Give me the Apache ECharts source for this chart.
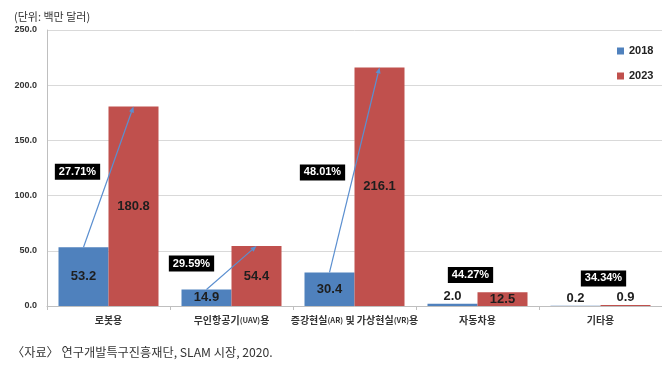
<!DOCTYPE html>
<html>
<head>
<meta charset="utf-8">
<script src="https://cdn.jsdelivr.net/npm/echarts@6/dist/echarts.min.js"></script>
<style>
  html, body { margin: 0; padding: 0; background: #fff; }
  #chart { width: 662px; height: 367px; }
</style>
</head>
<body>
<div id="chart"></div>
<script>
// data
var categories = ['로봇용', '무인항공기(UAV)용', '증강현실(AR) 및 가상현실(VR)용', '자동차용', '기타용'];
var v2018 = [53.2, 14.9, 30.4, 2.0, 0.2];
var v2023 = [180.8, 54.4, 216.1, 12.5, 0.9];
var growth = ['27.71%', '29.59%', '48.01%', '44.27%', '34.34%'];
var yTicks = [0, 50, 100, 150, 200, 250];

// layout only: where the growth boxes sit (value on y axis, px shift from category centre)
var boxY = [121.5, 38.5, 121, 28, 25];
var boxDX = [-31, -40, -32, -7, 3];
var arrowCats = [0, 1, 2];

var BAR_W = 50;
var BLUE = '#4f81bd', RED = '#c0504d';
var KR = '"Noto Sans CJK KR", "Liberation Sans", sans-serif';
var NUM = '"Liberation Sans", Arial, sans-serif';

var chart = echarts.init(document.getElementById('chart'));

function valLabel(v) {
  return {
    value: v,
    label: v < 5 ? { position: 'top', distance: 1 } : { position: 'inside' }
  };
}

var arrowData = arrowCats.map(function (i) { return [i, v2018[i], v2023[i]]; });
var boxData = growth.map(function (g, i) {
  return { value: [i, boxY[i]], label: { offset: [boxDX[i], 0] } };
});

chart.setOption({
  animation: false,
  title: {
    text: '(단위: 백만 달러)',
    left: 9, top: 6,
    textStyle: { fontFamily: KR, fontSize: 11, fontWeight: 'normal', color: '#333' }
  },
  graphic: [{
    type: 'text', left: 12, top: 346,
    style: { text: '〈자료〉 연구개발특구진흥재단, SLAM 시장, 2020.', font: '12.2px ' + KR, fill: '#333' }
  }],
  legend: {
    data: ['2018', '2023'],
    orient: 'vertical',
    left: 612, top: 39,
    icon: 'rect', itemWidth: 7, itemHeight: 7, itemGap: 11,
    textStyle: { fontFamily: NUM, fontSize: 11, fontWeight: 'bold', color: '#222', lineHeight: 14 }
  },
  grid: { left: 47, right: -6, top: 30, bottom: 61 },
  xAxis: {
    type: 'category',
    data: categories,
    axisLine: { lineStyle: { color: '#bfbfbf' } },
    axisTick: { show: true, length: 4, lineStyle: { color: '#bfbfbf' } },
    axisLabel: {
      margin: 9, interval: 0,
      fontFamily: KR, fontSize: 10, fontWeight: 'bold', color: '#333',
      formatter: function (s) { return s.replace(/\(([A-Z]+)\)/g, '{s|($1)}'); },
      rich: { s: { fontFamily: KR, fontSize: 7.5, fontWeight: 'bold', color: '#333' } }
    }
  },
  yAxis: {
    type: 'value',
    min: yTicks[0], max: yTicks[yTicks.length - 1], interval: yTicks[1] - yTicks[0],
    axisLine: { show: true, lineStyle: { color: '#bfbfbf' } },
    axisTick: { show: false },
    splitLine: { lineStyle: { color: '#d9d9d9' } },
    axisLabel: {
      margin: 10, fontFamily: NUM, fontSize: 9, fontWeight: 'bold', color: '#333',
      formatter: function (v) { return v.toFixed(1); }
    }
  },
  series: [
    {
      name: '2018', type: 'bar', barWidth: BAR_W, barGap: '0%',
      itemStyle: { color: BLUE },
      label: { show: true, fontFamily: NUM, fontSize: 13, fontWeight: 'bold', color: '#1e1e1e',
        formatter: function (p) { return p.value.toFixed(1); } },
      data: v2018.map(valLabel), z: 2
    },
    {
      name: '2023', type: 'bar', barWidth: BAR_W, barGap: '0%',
      itemStyle: { color: RED },
      label: { show: true, fontFamily: NUM, fontSize: 13, fontWeight: 'bold', color: '#1e1e1e',
        formatter: function (p) { return p.value.toFixed(1); } },
      data: v2023.map(valLabel), z: 2
    },
    {
      type: 'custom', z: 3, silent: true,
      encode: { x: 0, y: [1, 2] },
      renderItem: function (params, api) {
        var a = api.coord([api.value(0), api.value(1)]);
        var b = api.coord([api.value(0), api.value(2)]);
        a[0] -= BAR_W / 2; b[0] += BAR_W / 2;
        var ang = Math.atan2(b[1] - a[1], b[0] - a[0]);
        var L = 6, W = 2.5;
        var bx = b[0] - L * Math.cos(ang), by = b[1] - L * Math.sin(ang);
        var nx = -Math.sin(ang) * W, ny = Math.cos(ang) * W;
        return {
          type: 'group',
          children: [
            { type: 'line', shape: { x1: a[0], y1: a[1], x2: bx, y2: by },
              style: { stroke: '#5b8fd0', lineWidth: 1.2 } },
            { type: 'polygon', shape: { points: [[b[0], b[1]], [bx + nx, by + ny], [bx - nx, by - ny]] },
              style: { fill: '#5b8fd0' } }
          ]
        };
      },
      data: arrowData
    },
    {
      type: 'scatter', z: 4, silent: true,
      symbol: 'rect', symbolSize: 0,
      itemStyle: { color: '#000', opacity: 1 },
      label: {
        show: true, position: 'inside', opacity: 1,
        backgroundColor: '#000', color: '#fff', padding: [3, 4, 2, 4],
        fontFamily: NUM, fontSize: 11, fontWeight: 'bold',
        formatter: function (p) { return growth[p.dataIndex]; }
      },
      data: boxData
    }
  ]
});
</script>
</body>
</html>
